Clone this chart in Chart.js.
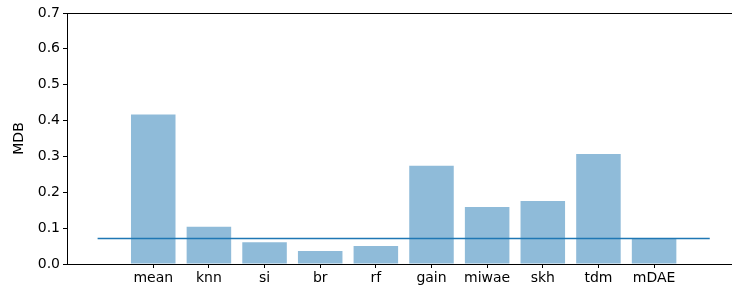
<!DOCTYPE html>
<html>
<head>
<meta charset="utf-8">
<script src="https://cdn.jsdelivr.net/npm/chart.js@4"></script>
<style>
  html, body { margin: 0; padding: 0; background: #fff; overflow: hidden; }
  #wrap { width: 732px; height: 293px; }
</style>
</head>
<body>
<div id="wrap"><canvas id="mdbChart" width="732" height="293"></canvas></div>
<script>
// Data
const methods = ["mean", "knn", "si", "br", "rf", "gain", "miwae", "skh", "tdm", "mDAE"];
const mdbValues = [0.417, 0.104, 0.061, 0.036, 0.050, 0.274, 0.159, 0.176, 0.307, 0.070];
const baselineValue = 0.071;
const baselineRange = [-1, 10];
const yTicks = [0, 0.1, 0.2, 0.3, 0.4, 0.5, 0.6, 0.7];

const font = { family: "DejaVu Sans", size: 14 };

const ctx = document.getElementById("mdbChart").getContext("2d");
const chart = new Chart(ctx, {
  type: "bar",
  data: {
    datasets: [
      {
        type: "bar",
        label: "MDB",
        data: methods.map((m, i) => ({ x: i, y: mdbValues[i] })),
        backgroundColor: "rgba(31,119,180,0.5)",
        borderWidth: 0,
        categoryPercentage: 1,
        barPercentage: 0.8,
        order: 2,
      },
      {
        type: "line",
        label: "baseline",
        data: baselineRange.map((x) => ({ x: x, y: baselineValue })),
        borderColor: "#1f77b4",
        borderWidth: 1.6,
        pointRadius: 0,
        fill: false,
        order: 1,
      },
    ],
  },
  options: {
    responsive: false,
    animation: false,
    layout: { padding: { left: 0, right: 0, top: 0, bottom: 0 } },
    plugins: {
      legend: { display: false },
      tooltip: { enabled: false },
    },
    scales: {
      x: {
        type: "linear",
        position: "bottom",
        offset: false,
        min: -1.55,
        max: 10.4,
        afterBuildTicks: (scale) => {
          scale.ticks = methods.map((m, i) => ({ value: i }));
        },
        afterFit: (scale) => { scale.height = 29; },
        ticks: {
          color: "#000",
          font: font,
          padding: 2,
          maxRotation: 0,
          autoSkip: false,
          callback: (v) => methods[v] ?? "",
        },
        grid: { offset: false, drawOnChartArea: false, drawTicks: true, tickLength: 4, color: "#000" },
        border: { display: true, color: "#000", width: 1 },
      },
      xTop: {
        type: "linear",
        position: "top",
        offset: false,
        min: -1.55,
        max: 10.4,
        afterFit: (scale) => { scale.height = 13; },
        ticks: { display: false },
        grid: { display: false },
        border: { display: true, color: "#000", width: 1 },
      },
      y: {
        min: 0,
        max: 0.7,
        afterBuildTicks: (scale) => {
          scale.ticks = yTicks.map((v) => ({ value: v }));
        },
        afterFit: (scale) => { scale.width = 67; },
        ticks: {
          color: "#000",
          font: font,
          padding: 3,
          callback: (v) => v.toFixed(1),
        },
        title: { display: true, text: "MDB", color: "#000", font: font, padding: { top: 11, bottom: 0 } },
        grid: { drawOnChartArea: false, drawTicks: true, tickLength: 4, color: "#000" },
        border: { display: true, color: "#000", width: 1 },
      },
    },
  },
});
</script>
</body>
</html>
